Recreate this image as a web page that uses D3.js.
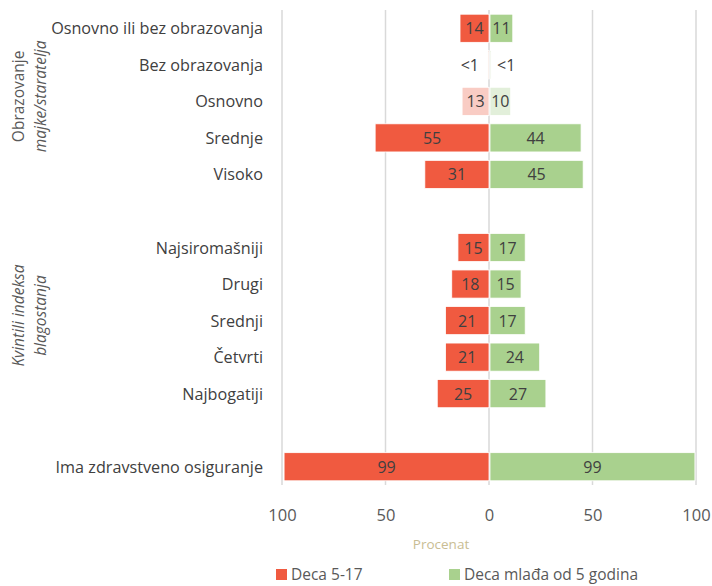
<!DOCTYPE html>
<html><head><meta charset="utf-8">
<script src="https://cdn.jsdelivr.net/npm/d3@7"></script>
<style>body{margin:0;background:#fff;} text{font-family:"Open Sans",sans-serif;}</style>
</head><body>
<svg id="c" width="712" height="586"></svg>
<script>
const categories = ["Osnovno ili bez obrazovanja","Bez obrazovanja","Osnovno","Srednje","Visoko","",
  "Najsiromašniji","Drugi","Srednji","Četvrti","Najbogatiji","","Ima zdravstveno osiguranje"];
const olderValues   = [14, 0.5, 13, 55, 31, null, 15, 18, 21, 21, 25, null, 99];
const olderLabels   = ["14","<1","13","55","31","","15","18","21","21","25","","99"];
const youngerValues = [11, 0.5, 10, 44, 45, null, 17, 15, 17, 24, 27, null, 99];
const youngerLabels = ["11","<1","10","44","45","","17","15","17","24","27","","99"];
const tickValues = [-100, -50, 0, 50, 100];
const seriesNames = ["Deca 5-17", "Deca mlađa od 5 godina"];
const axisTitle = "Procenat";
const groupLabels = [
  {lines:["Obrazovanje","majke/staratelja"], from:0, to:4, italic:[false,true]},
  {lines:["Kvintili indeksa","blagostanja"], from:6, to:10, italic:[true,true]}
];

const RED="#F05A40", GREEN="#A9D18E", RED_L="#F9CCC4", GREEN_L="#E2EFDA";
const svg = d3.select("#c");
const x = d3.scaleLinear().domain([-100,100]).range([282,696]);
const y = d3.scaleBand().domain(d3.range(categories.length)).range([10,485]).paddingInner(0.23).paddingOuter(0.115);

// gridlines
svg.append("g").selectAll("line").data(tickValues).join("line")
  .attr("x1",d=>x(d)).attr("x2",d=>x(d)).attr("y1",10).attr("y2",485)
  .attr("stroke","#D9D9D9").attr("stroke-width",1.5);

const rows = d3.range(categories.length).filter(i=>olderValues[i]!==null);
const bw = y.bandwidth();
// bars
svg.append("g").selectAll("rect").data(rows).join("rect")
  .attr("x",i=>x(-olderValues[i])).attr("width",i=>x(0)-x(-olderValues[i]))
  .attr("y",i=>y(i)).attr("height",bw)
  .attr("fill",i=>i===2?RED_L:(i===1?"#F3DCD3":RED)).attr("stroke","#fff").attr("stroke-width",0.8);
svg.append("g").selectAll("rect").data(rows).join("rect")
  .attr("x",x(0)+1).attr("width",i=>x(youngerValues[i])-x(0))
  .attr("y",i=>y(i)).attr("height",bw)
  .attr("fill",i=>i===2?GREEN_L:(i===1?"#E5EEDC":GREEN)).attr("stroke","#fff").attr("stroke-width",0.8);

// value labels
const lab = svg.append("g").attr("font-size",16).attr("fill","#404040");
rows.forEach(i=>{
  const cy = y(i)+bw/2+6;
  if (olderValues[i] < 1) {
    lab.append("text").attr("x",x(0)-10).attr("y",cy).attr("text-anchor","end").text(olderLabels[i]);
  } else {
    lab.append("text").attr("x",(x(-olderValues[i])+x(0))/2).attr("y",cy).attr("text-anchor","middle").text(olderLabels[i]);
  }
  if (youngerValues[i] < 1) {
    lab.append("text").attr("x",x(0)+8).attr("y",cy).attr("text-anchor","start").text(youngerLabels[i]);
  } else {
    lab.append("text").attr("x",(x(youngerValues[i])+x(0))/2+1).attr("y",cy).attr("text-anchor","middle").text(youngerLabels[i]);
  }
});

// category labels
svg.append("g").selectAll("text").data(rows).join("text")
  .attr("x",263).attr("y",i=>y(i)+bw/2+6).attr("text-anchor","end")
  .attr("font-size",16.2).attr("fill","#404040").text(i=>categories[i]);

// x axis tick labels
const ax = svg.append("g").attr("transform","translate(0,518)")
  .call(d3.axisBottom(x).tickValues(tickValues).tickSize(0).tickFormat(d=>Math.abs(d)));
ax.select(".domain").remove();
ax.selectAll("text").attr("font-size",16.5).attr("fill","#595959").attr("font-family","Open Sans").attr("dy",0);

svg.append("text").attr("x",441).attr("y",549).attr("text-anchor","middle")
  .attr("font-size",13.5).attr("fill","#C9BD93").text(axisTitle);

// group labels
groupLabels.forEach(g=>{
  const cy = (y(g.from)+y(g.to)+bw)/2 - 5;
  g.lines.forEach((t,k)=>{
    svg.append("text").attr("transform",`translate(${24+k*22},${cy}) rotate(-90)`)
      .attr("text-anchor","middle").attr("font-size",15.5).attr("fill","#595959")
      .attr("font-style",g.italic[k]?"italic":"normal").text(t);
  });
});

// legend
const lg = svg.append("g").attr("font-size",15.5).attr("fill","#595959");
const legendItems = [{name:seriesNames[0],c:RED,x:276},{name:seriesNames[1],c:GREEN,x:449}];
legendItems.forEach(l=>{
  lg.append("rect").attr("x",l.x).attr("y",569).attr("width",11).attr("height",11).attr("fill",l.c);
  lg.append("text").attr("x",l.x+15).attr("y",580).text(l.name);
});
</script>
</body></html>
